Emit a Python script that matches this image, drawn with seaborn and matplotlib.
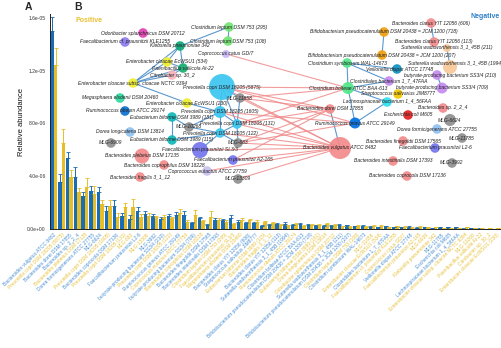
import numpy as np
import pandas as pd
import matplotlib
matplotlib.use("Agg")
import matplotlib.pyplot as plt
import seaborn as sns

# ---------------- data ----------------
taxa = [
    "Bacteroides vulgatus ATCC 8482", "Prevotella copri DSM 18205 (5875)", "Bacteroides dorei DSM 17855",
    "Bacteroides sp. 2_2_4", "Bacteroides plebeius DSM 17135", "Dorea formicigenerans ATCC 27755",
    "MLG-6624", "Prevotella copri DSM 18205 (1605)", "Bacteroides coprocola DSM 17136",
    "Prevotella copri DSM 18205 (131)", "MLG-683", "Faecalibacterium prausnitzii L2-6",
    "MLG-13309", "MLG-3992", "butyrate-producing bacterium SS3/4 (210)",
    "Prevotella copri DSM 18205 (122)", "Ruminococcus gnavus ATCC 29149", "Coprococcus eutactus ATCC 27759",
    "butyrate-producing bacterium SS3/4 (709)", "Bacteroides coprophilus DSM 18228", "Bacteroides finegoldii DSM 17565",
    "Bacteroides intestinalis DSM 17393", "Clostridium leptum DSM 753 (295)", "Faecalibacterium prausnitzii SL3/3",
    "Megasphaera elsdenii DSM 20460", "Bacteroides clarus YIT 12056 (606)", "Streptococcus salivarius JIM8777",
    "Eubacterium biforme DSM 3989 (115)", "Bacteroides fragilis 3_1_12", "Bacteroides clarus YIT 12056 (113)",
    "Sutterella wadsworthensis 3_1_45B (1994)", "Ruminococcus obeum ATCC 29174", "Clostridium bolteae ATCC BAA-613",
    "Bifidobacterium pseudocatenulatum DSM 20438 = JCM 1200 (718)", "Eubacterium biforme DSM 3989 (181)",
    "Dorea longicatena DSM 13814", "Odoribacter splanchnicus DSM 20712", "Sutterella wadsworthensis 3_1_45B (211)",
    "Bifidobacterium pseudocatenulatum DSM 20438 = JCM 1200 (207)", "Clostridium leptum DSM 753 (108)",
    "Clostridium symbiosum WAL-14673", "MLG-11858", "Enterobacter cloacae EcWSU1 (534)",
    "Clostridiales bacterium 1_7_47FAA", "Faecalibacterium cf. prausnitzii KLE1255", "Coprococcus catus GD/7",
    "Veillonella dispar ATCC 17748", "Faecalibacterium prausnitzii A2-165", "MLG-6909",
    "Klebsiella pneumoniae 342", "MLG-11785", "Escherichia coli M605",
    "Lachnospiraceae bacterium 1_4_56FAA", "Enterobacter cloacae subsp. cloacae NCTC 9394", "MLG-10268",
    "Paenibacillus vallicola At-22", "Citrobacter sp. 30_2", "Enterobacter cloacae EcWSU1 (230)",
]
side = ["N", "P", "N", "N", "P", "N", "N", "P", "N", "P", "P", "N", "P", "N", "N", "P", "N", "P", "N", "P",
        "N", "N", "P", "P", "P", "N", "N", "P", "P", "N", "N", "P", "N", "N", "P", "P", "P", "N", "N", "P",
        "N", "P", "P", "N", "P", "P", "N", "P", "P", "P", "N", "N", "N", "P", "P", "P", "P", "P"]

# relative abundance (x 1e-6)
blue_vals = [15.0, 3.6, 5.36, 3.96, 2.5, 2.9, 2.83, 1.39, 1.74, 0.98, 0.73, 1.39, 1.11, 0.98, 0.78,
             0.98, 1.06, 1.06, 0.43, 0.81, 0.30, 0.68, 0.68, 0.81, 0.55, 0.45, 0.43, 0.25, 0.30, 0.35,
             0.40, 0.30, 0.38, 0.33, 0.28, 0.25, 0.22, 0.30, 0.28, 0.20, 0.25, 0.15, 0.12, 0.20, 0.12,
             0.12, 0.18, 0.10, 0.12, 0.08, 0.14, 0.12, 0.12, 0.03, 0.06, 0.03, 0.02, 0.02]
yellow_vals = [12.4, 6.5, 3.96, 2.83, 3.16, 2.65, 1.9, 1.74, 0.93, 1.64, 1.64, 0.93, 0.98, 0.89, 0.93,
               0.81, 1.24, 0.55, 1.06, 0.60, 0.93, 0.68, 0.55, 0.38, 0.68, 0.68, 0.55, 0.55, 0.43, 0.30,
               0.28, 0.40, 0.25, 0.30, 0.33, 0.35, 0.30, 0.20, 0.18, 0.25, 0.18, 0.22, 0.22, 0.12, 0.20,
               0.18, 0.10, 0.18, 0.15, 0.15, 0.08, 0.06, 0.05, 0.12, 0.08, 0.08, 0.08, 0.07]
blue_err = [1.1, 0.6, 0.5, 0.76, 0.33, 0.36, 0.37, 0.35, 0.46, 0.21, 0.33, 0.25, 0.28, 0.12, 0.10,
            0.15, 0.20, 0.30, 0.10, 0.12, 0.08, 0.12, 0.10, 0.25, 0.10, 0.10, 0.08, 0.06, 0.08, 0.08,
            0.10, 0.06, 0.08, 0.07, 0.06, 0.05, 0.05, 0.07, 0.06, 0.05, 0.05, 0.04, 0.04, 0.05, 0.04,
            0.04, 0.05, 0.03, 0.04, 0.03, 0.04, 0.04, 0.04, 0.02, 0.03, 0.02, 0.01, 0.01]
yellow_err = [1.3, 1.1, 0.51, 0.25, 0.68, 0.61, 0.30, 0.46, 0.26, 0.36, 0.61, 0.21, 0.21, 0.10, 0.15,
              0.12, 0.26, 0.10, 0.38, 0.10, 0.43, 0.12, 0.10, 0.08, 0.12, 0.10, 0.10, 0.08, 0.08, 0.06,
              0.06, 0.08, 0.05, 0.06, 0.06, 0.07, 0.06, 0.04, 0.04, 0.05, 0.04, 0.05, 0.05, 0.03, 0.04,
              0.04, 0.03, 0.04, 0.03, 0.03, 0.02, 0.02, 0.02, 0.03, 0.02, 0.02, 0.02, 0.02]
cohorts = ["Group 1", "Group 2"]

# network layout (figure pixel frame) and node radii
node_pos = {
    "Odoribacter splanchnicus DSM 20712": (143, 33), "Faecalibacterium cf. prausnitzii KLE1255": (125, 42),
    "Klebsiella pneumoniae 342": (180, 46), "Clostridium leptum DSM 753 (295)": (229, 27),
    "Clostridium leptum DSM 753 (108)": (228, 41), "Coprococcus catus GD/7": (226, 54),
    "Enterobacter cloacae EcWSU1 (534)": (167, 62), "Paenibacillus vallicola At-22": (183, 68),
    "Citrobacter sp. 30_2": (172, 75), "Enterobacter cloacae subsp. cloacae NCTC 9394": (133, 83),
    "Megasphaera elsdenii DSM 20460": (120, 98), "Enterobacter cloacae EcWSU1 (230)": (187, 103),
    "Prevotella copri DSM 18205 (5875)": (222, 87), "MLG-11858": (240, 98),
    "Ruminococcus obeum ATCC 29174": (125, 111), "Eubacterium biforme DSM 3989 (181)": (172, 117),
    "Prevotella copri DSM 18205 (1605)": (220, 112), "Prevotella copri DSM 18205 (131)": (237, 124),
    "MLG-10268": (189, 127), "Prevotella copri DSM 18205 (122)": (220, 133),
    "Eubacterium biforme DSM 3989 (115)": (172, 140), "Dorea longicatena DSM 13814": (130, 132),
    "MLG-6909": (111, 143), "MLG-683": (238, 143), "Faecalibacterium prausnitzii SL3/3": (200, 150),
    "Bacteroides plebeius DSM 17135": (142, 156), "Faecalibacterium prausnitzii A2-165": (233, 160),
    "Bacteroides coprophilus DSM 18228": (164, 165), "Coprococcus eutactus ATCC 27759": (207, 171),
    "Bacteroides fragilis 3_1_12": (140, 177), "MLG-13309": (238, 179),
    "Bacteroides clarus YIT 12056 (606)": (431, 23),
    "Bifidobacterium pseudocatenulatum DSM 20438 = JCM 1200 (718)": (384, 32),
    "Bacteroides clarus YIT 12056 (113)": (434, 42), "Sutterella wadsworthensis 3_1_45B (211)": (447, 48),
    "Bifidobacterium pseudocatenulatum DSM 20438 = JCM 1200 (207)": (382, 55),
    "Clostridium symbiosum WAL-14673": (347, 63), "Sutterella wadsworthensis 3_1_45B (1994)": (450, 67),
    "Veillonella dispar ATCC 17748": (397, 69), "butyrate-producing bacterium SS3/4 (210)": (437, 75),
    "Clostridiales bacterium 1_7_47FAA": (389, 81), "Clostridium bolteae ATCC BAA-613": (348, 88),
    "butyrate-producing bacterium SS3/4 (709)": (442, 88), "Streptococcus salivarius JIM8777": (398, 94),
    "Lachnospiraceae bacterium 1_4_56FAA": (387, 102), "Bacteroides dorei DSM 17855": (330, 109),
    "Bacteroides sp. 2_2_4": (443, 108), "Escherichia coli M605": (408, 115), "MLG-6624": (450, 120),
    "Ruminococcus gnavus ATCC 29149": (355, 123), "Dorea formicigenerans ATCC 27755": (437, 129),
    "Bacteroides vulgatus ATCC 8482": (340, 148), "MLG-11785": (462, 138),
    "Bacteroides finegoldii DSM 17565": (403, 141), "Faecalibacterium prausnitzii L2-6": (435, 148),
    "Bacteroides intestinalis DSM 17393": (393, 161), "MLG-3992": (452, 163),
    "Bacteroides coprocola DSM 17136": (407, 176),
}
# a few labels sit slightly off their node
label_pos = dict(node_pos)
label_pos.update({
    "Sutterella wadsworthensis 3_1_45B (1994)": (455, 63),
    "Veillonella dispar ATCC 17748": (400, 70),
    "butyrate-producing bacterium SS3/4 (210)": (450, 76),
})
node_radius = {t: 4.8 for t in node_pos}
node_radius.update({
    "Prevotella copri DSM 18205 (5875)": 13, "Bacteroides vulgatus ATCC 8482": 11,
    "Faecalibacterium prausnitzii SL3/3": 8, "Bacteroides plebeius DSM 17135": 7.5,
    "Sutterella wadsworthensis 3_1_45B (1994)": 7, "Prevotella copri DSM 18205 (1605)": 6,
    "Clostridium bolteae ATCC BAA-613": 6, "MLG-6624": 6, "Ruminococcus gnavus ATCC 29149": 5.5,
    "butyrate-producing bacterium SS3/4 (709)": 5.5, "Coprococcus catus GD/7": 4,
    "Sutterella wadsworthensis 3_1_45B (211)": 4,
})
SAL, GRY, PUR, CYA, LIL = "#F28A8A", "#8E8E8E", "#7474EE", "#3CC6F0", "#C48AF0"
node_color = {
    "Odoribacter splanchnicus DSM 20712": "#E040B0", "Faecalibacterium cf. prausnitzii KLE1255": "#8C7CF0",
    "Klebsiella pneumoniae 342": "#10A878", "Clostridium leptum DSM 753 (295)": "#74E474",
    "Clostridium leptum DSM 753 (108)": "#74E474", "Coprococcus catus GD/7": "#C8B8F8",
    "Enterobacter cloacae EcWSU1 (534)": "#EEEE30", "Paenibacillus vallicola At-22": "#18B070",
    "Citrobacter sp. 30_2": "#F8B4BC", "Enterobacter cloacae subsp. cloacae NCTC 9394": "#EEEE30",
    "Megasphaera elsdenii DSM 20460": "#30D8A0", "Enterobacter cloacae EcWSU1 (230)": "#EEEE30",
    "Prevotella copri DSM 18205 (5875)": CYA, "MLG-11858": GRY, "Ruminococcus obeum ATCC 29174": "#0A70D0",
    "Eubacterium biforme DSM 3989 (181)": "#10B8B8", "Prevotella copri DSM 18205 (1605)": CYA,
    "Prevotella copri DSM 18205 (131)": CYA, "MLG-10268": GRY, "Prevotella copri DSM 18205 (122)": CYA,
    "Eubacterium biforme DSM 3989 (115)": "#10B8B8", "Dorea longicatena DSM 13814": "#90C0F0",
    "MLG-6909": GRY, "MLG-683": GRY, "Faecalibacterium prausnitzii SL3/3": PUR,
    "Bacteroides plebeius DSM 17135": SAL, "Faecalibacterium prausnitzii A2-165": PUR,
    "Bacteroides coprophilus DSM 18228": SAL, "Coprococcus eutactus ATCC 27759": "#C8C0F0",
    "Bacteroides fragilis 3_1_12": SAL, "MLG-13309": GRY,
    "Bacteroides clarus YIT 12056 (606)": SAL,
    "Bifidobacterium pseudocatenulatum DSM 20438 = JCM 1200 (718)": "#F0A010",
    "Bacteroides clarus YIT 12056 (113)": SAL, "Sutterella wadsworthensis 3_1_45B (211)": "#F8C898",
    "Bifidobacterium pseudocatenulatum DSM 20438 = JCM 1200 (207)": "#F0A010",
    "Clostridium symbiosum WAL-14673": "#50E888", "Sutterella wadsworthensis 3_1_45B (1994)": "#F8C898",
    "Veillonella dispar ATCC 17748": "#1090C0", "butyrate-producing bacterium SS3/4 (210)": LIL,
    "Clostridiales bacterium 1_7_47FAA": LIL, "Clostridium bolteae ATCC BAA-613": "#50E888",
    "butyrate-producing bacterium SS3/4 (709)": LIL, "Streptococcus salivarius JIM8777": "#F0C800",
    "Lachnospiraceae bacterium 1_4_56FAA": "#30E0F0", "Bacteroides dorei DSM 17855": SAL,
    "Bacteroides sp. 2_2_4": SAL, "Escherichia coli M605": "#E02020", "MLG-6624": GRY,
    "Ruminococcus gnavus ATCC 29149": "#0070E0", "Dorea formicigenerans ATCC 27755": "#90C0F0",
    "Bacteroides vulgatus ATCC 8482": SAL, "MLG-11785": GRY, "Bacteroides finegoldii DSM 17565": SAL,
    "Faecalibacterium prausnitzii L2-6": PUR, "Bacteroides intestinalis DSM 17393": SAL,
    "MLG-3992": GRY, "Bacteroides coprocola DSM 17136": SAL,
}
pos_edges = [
    ("Enterobacter cloacae subsp. cloacae NCTC 9394", "Enterobacter cloacae EcWSU1 (534)"),
    ("Enterobacter cloacae subsp. cloacae NCTC 9394", "Klebsiella pneumoniae 342"),
    ("Enterobacter cloacae subsp. cloacae NCTC 9394", "Paenibacillus vallicola At-22"),
    ("Enterobacter cloacae subsp. cloacae NCTC 9394", "Citrobacter sp. 30_2"),
    ("Enterobacter cloacae subsp. cloacae NCTC 9394", "Enterobacter cloacae EcWSU1 (230)"),
    ("Enterobacter cloacae EcWSU1 (534)", "Klebsiella pneumoniae 342"),
    ("Enterobacter cloacae EcWSU1 (534)", "Paenibacillus vallicola At-22"),
    ("Klebsiella pneumoniae 342", "Paenibacillus vallicola At-22"),
    ("Paenibacillus vallicola At-22", "Citrobacter sp. 30_2"),
    ("Klebsiella pneumoniae 342", "Clostridium leptum DSM 753 (295)"),
    ("Clostridium leptum DSM 753 (295)", "Clostridium leptum DSM 753 (108)"),
    ("Prevotella copri DSM 18205 (5875)", "Prevotella copri DSM 18205 (1605)"),
    ("Prevotella copri DSM 18205 (5875)", "MLG-11858"),
    ("Prevotella copri DSM 18205 (5875)", "Prevotella copri DSM 18205 (131)"),
    ("Prevotella copri DSM 18205 (1605)", "Prevotella copri DSM 18205 (131)"),
    ("Prevotella copri DSM 18205 (1605)", "Prevotella copri DSM 18205 (122)"),
    ("Prevotella copri DSM 18205 (131)", "Prevotella copri DSM 18205 (122)"),
    ("Prevotella copri DSM 18205 (131)", "MLG-683"),
    ("Prevotella copri DSM 18205 (131)", "MLG-11858"),
    ("Prevotella copri DSM 18205 (122)", "MLG-10268"),
    ("Prevotella copri DSM 18205 (122)", "MLG-683"),
    ("Prevotella copri DSM 18205 (1605)", "MLG-10268"),
    ("Eubacterium biforme DSM 3989 (181)", "Eubacterium biforme DSM 3989 (115)"),
    ("Eubacterium biforme DSM 3989 (181)", "MLG-10268"),
    ("Eubacterium biforme DSM 3989 (115)", "Prevotella copri DSM 18205 (122)"),
    ("Enterobacter cloacae EcWSU1 (230)", "Prevotella copri DSM 18205 (1605)"),
    ("Faecalibacterium prausnitzii SL3/3", "Prevotella copri DSM 18205 (122)"),
    ("Bacteroides clarus YIT 12056 (606)", "Bacteroides clarus YIT 12056 (113)"),
    ("Bifidobacterium pseudocatenulatum DSM 20438 = JCM 1200 (718)",
     "Bifidobacterium pseudocatenulatum DSM 20438 = JCM 1200 (207)"),
    ("Sutterella wadsworthensis 3_1_45B (211)", "Sutterella wadsworthensis 3_1_45B (1994)"),
    ("Clostridium symbiosum WAL-14673", "Clostridium bolteae ATCC BAA-613"),
    ("Clostridium symbiosum WAL-14673", "Clostridiales bacterium 1_7_47FAA"),
    ("Clostridium symbiosum WAL-14673", "Veillonella dispar ATCC 17748"),
    ("Clostridium bolteae ATCC BAA-613", "Clostridiales bacterium 1_7_47FAA"),
    ("Clostridium bolteae ATCC BAA-613", "Lachnospiraceae bacterium 1_4_56FAA"),
    ("Clostridium bolteae ATCC BAA-613", "Ruminococcus gnavus ATCC 29149"),
    ("Lachnospiraceae bacterium 1_4_56FAA", "Ruminococcus gnavus ATCC 29149"),
    ("butyrate-producing bacterium SS3/4 (210)", "butyrate-producing bacterium SS3/4 (709)"),
    ("Bacteroides dorei DSM 17855", "Bacteroides vulgatus ATCC 8482"),
]
neg_edges = [
    ("Prevotella copri DSM 18205 (5875)", "Clostridium bolteae ATCC BAA-613"),
    ("Prevotella copri DSM 18205 (5875)", "Bacteroides vulgatus ATCC 8482"),
    ("Prevotella copri DSM 18205 (5875)", "Bacteroides dorei DSM 17855"),
    ("Prevotella copri DSM 18205 (5875)", "Ruminococcus gnavus ATCC 29149"),
    ("Coprococcus catus GD/7", "Clostridium bolteae ATCC BAA-613"),
    ("MLG-11858", "Bacteroides vulgatus ATCC 8482"),
    ("MLG-11858", "Bacteroides dorei DSM 17855"),
    ("MLG-11858", "Clostridium bolteae ATCC BAA-613"),
    ("Prevotella copri DSM 18205 (1605)", "Bacteroides vulgatus ATCC 8482"),
    ("Prevotella copri DSM 18205 (1605)", "Ruminococcus gnavus ATCC 29149"),
    ("Prevotella copri DSM 18205 (131)", "Bacteroides vulgatus ATCC 8482"),
    ("Prevotella copri DSM 18205 (131)", "Bacteroides dorei DSM 17855"),
    ("Prevotella copri DSM 18205 (131)", "Clostridium bolteae ATCC BAA-613"),
    ("Prevotella copri DSM 18205 (122)", "Bacteroides vulgatus ATCC 8482"),
    ("MLG-683", "Bacteroides vulgatus ATCC 8482"),
    ("MLG-683", "Bacteroides dorei DSM 17855"),
    ("MLG-683", "Ruminococcus gnavus ATCC 29149"),
    ("Faecalibacterium prausnitzii A2-165", "Bacteroides vulgatus ATCC 8482"),
    ("Faecalibacterium prausnitzii A2-165", "Bacteroides dorei DSM 17855"),
    ("Coprococcus eutactus ATCC 27759", "Bacteroides vulgatus ATCC 8482"),
    ("MLG-13309", "Bacteroides vulgatus ATCC 8482"),
    ("Faecalibacterium prausnitzii SL3/3", "Bacteroides vulgatus ATCC 8482"),
]

# ---------------- styling ----------------
BLUE, YELLOW = "#1A6DB4", "#E6BE2A"
LBL_BLUE, LBL_YELLOW = "#4A90D4", "#E8C23E"

sns.set_style("white")
plt.rcParams["font.family"] = ["Liberation Sans", "DejaVu Sans"]

fig = plt.figure(figsize=(5.02, 3.48), dpi=100)
ax = fig.add_axes([50 / 502, 1 - 229 / 348, 450 / 502, (229 - 14) / 348])

df = pd.DataFrame({
    "taxon": taxa * 2,
    "cohort": [cohorts[0]] * len(taxa) + [cohorts[1]] * len(taxa),
    "abundance": np.array(blue_vals + yellow_vals) * 1e-6,
})
sns.barplot(data=df, x="taxon", y="abundance", hue="cohort", order=taxa, hue_order=cohorts,
            palette=[BLUE, YELLOW], width=0.88, errorbar=None, saturation=1, legend=False,
            linewidth=0, ax=ax)

for cont, errs, col in zip(ax.containers, [blue_err, yellow_err], [BLUE, YELLOW]):
    xs = [b.get_x() + b.get_width() / 2 for b in cont]
    hs = [b.get_height() for b in cont]
    e = np.array(errs) * 1e-6
    ax.errorbar(xs, hs, yerr=[np.zeros(len(e)), e], fmt="none", ecolor=col,
                elinewidth=0.7, capsize=1.2, capthick=0.6, zorder=1)

ax.set_xlim(-0.5, len(taxa) - 0.5)
ax.set_ylim(0, 1.63e-5)
ax.set_yticks([0, 4e-6, 8e-6, 1.2e-5, 1.6e-5])
ax.set_yticklabels(["0.0e+00", "4.0e-06", "8.0e-06", "1.2e-05", "1.6e-05"])
ax.set_xticks(range(len(taxa)))
ax.set_xticklabels(taxa, rotation=45, ha="right", rotation_mode="anchor")
for lab, s in zip(ax.get_xticklabels(), side):
    lab.set_color(LBL_BLUE if s == "N" else LBL_YELLOW)
ax.tick_params(axis="y", labelsize=3.6, length=2, width=0.5, colors="#333", pad=1)
ax.tick_params(axis="x", labelsize=3.5, length=1.5, width=0.4, pad=0.8, color="#333")
ax.set_xlabel("")
ax.set_ylabel("Relative abundance", fontsize=5.5, color="#111")
ax.yaxis.set_label_coords(-0.055, 0.5)
sns.despine(ax=ax)
for sp in ["left", "bottom"]:
    ax.spines[sp].set_color("#222")
    ax.spines[sp].set_linewidth(0.7)

# ---------------- network overlay ----------------
net = fig.add_axes([0, 0, 1, 1], facecolor="none")
for a, b in pos_edges:
    (x1, y1), (x2, y2) = node_pos[a], node_pos[b]
    net.plot([x1, x2], [y1, y2], color="#3F86C6", lw=0.8, alpha=0.85, zorder=1)
for a, b in neg_edges:
    (x1, y1), (x2, y2) = node_pos[a], node_pos[b]
    net.plot([x1, x2], [y1, y2], color="#F08A8A", lw=0.8, alpha=0.85, zorder=1)

names = list(node_pos)
ndf = pd.DataFrame({"name": names,
                    "x": [node_pos[n][0] for n in names],
                    "y": [node_pos[n][1] for n in names]})
sizes = {n: (1.44 * node_radius[n]) ** 2 for n in names}
sns.scatterplot(data=ndf, x="x", y="y", hue="name", palette=node_color, size="name", sizes=sizes,
                legend=False, linewidth=0, alpha=0.92, ax=net, zorder=2)
for n in names:
    x, y = label_pos[n]
    net.text(x, y, n, fontsize=3.6, style="italic", ha="center", va="center", color="#222", zorder=3)
net.set_xlim(0, 502)
net.set_ylim(348, 0)
net.axis("off")

fig.text(28 / 502, 1 - 7 / 348, "A", fontsize=7.5, fontweight="bold", ha="center", va="center")
fig.text(78 / 502, 1 - 7 / 348, "B", fontsize=7.5, fontweight="bold", ha="center", va="center")
fig.text(75 / 502, 1 - 20 / 348, "Positive", fontsize=5, fontweight="bold", color="#E8C030",
         ha="left", va="center")
fig.text(500 / 502, 1 - 17 / 348, "Negative", fontsize=5, fontweight="bold", color="#2F80C8",
         ha="right", va="center")

fig.savefig("out.png", dpi=100)
